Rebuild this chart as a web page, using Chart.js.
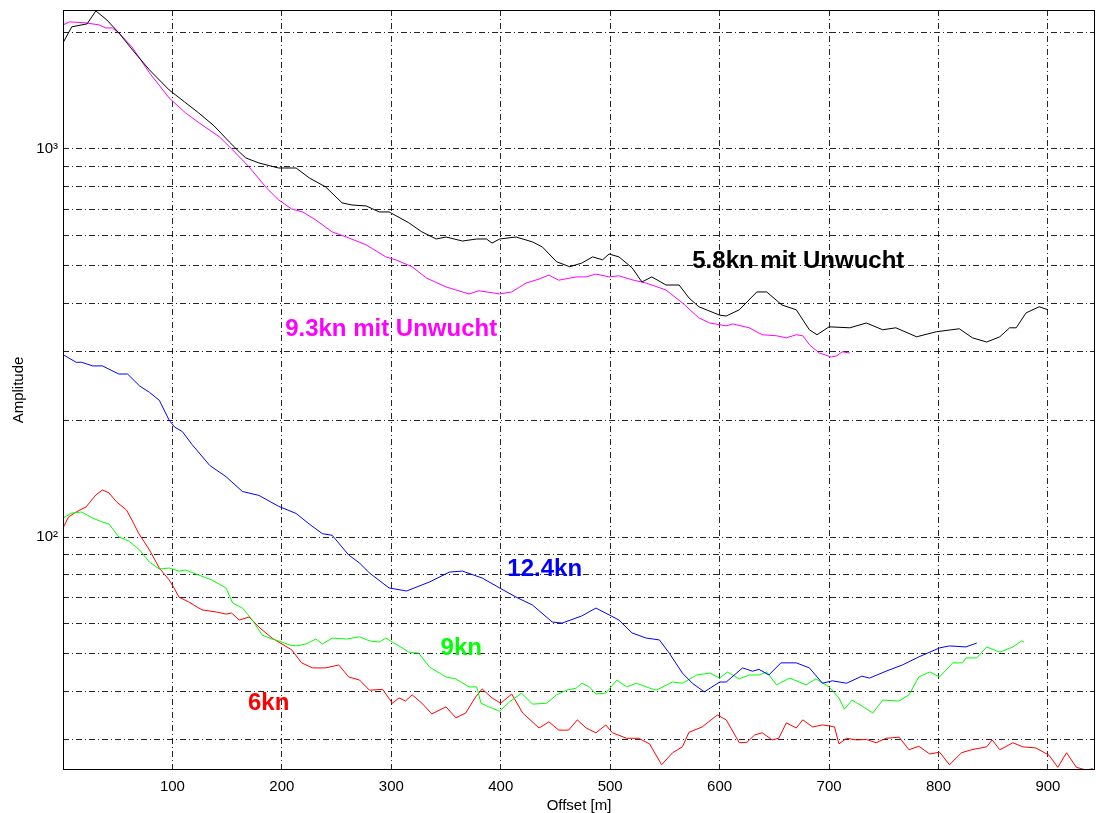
<!DOCTYPE html>
<html>
<head>
<meta charset="utf-8">
<title>Amplitude / Offset</title>
<script src="https://cdn.jsdelivr.net/npm/chart.js@4.4.0/dist/chart.umd.min.js"></script>
<style>
  html, body { margin: 0; padding: 0; background: #fff; }
  #wrap { width: 1096px; height: 813px; position: relative; }
</style>
</head>
<body>
<div id="wrap"><canvas id="chart"></canvas></div>
<script>
// Kurven (Offset in m, Amplitude)
const offsets58 = [0,8,22,30,40,51,65,79,97,111,124,138,152,161,167,179,197,213,225,240,255,264,277,289,298,316,328,341,350,365,378,387,392,399,414,429,438,451,463,474,484,493,499,508,520,529,538,551,563,572,581,600,606,618,634,643,657,670,682,689,700,719,734,749,761,780,798,819,831,844,856,865,871,880,892,900];
const amp58 = [1876,2063,2100,2268,2150,1991,1778,1598,1419,1322,1238,1147,1042,983,948,920,893,893,842,798,726,717,713,688,688,645,611,586,593,579,586,586,572,586,593,576,559,512,497,508,527,518,536,527,494,454,468,446,446,413,392,373,371,385,428,428,396,385,342,332,348,346,356,342,346,328,338,344,326,318,328,346,346,378,392,385];

const offsets93 = [0,6,21,33,39,45,51,63,79,97,112,127,143,155,170,186,197,209,219,231,246,261,277,295,304,319,332,350,359,371,380,392,399,410,423,435,444,453,469,478,487,499,508,520,533,551,566,581,591,606,612,627,639,652,661,670,676,682,691,702,707,712,719];
const amp93 = [2087,2125,2112,2087,2050,2050,1991,1832,1570,1353,1238,1153,1074,994,899,793,739,700,688,656,611,590,566,527,518,497,465,441,433,423,431,426,423,428,451,462,473,459,468,468,476,468,471,460,451,433,401,367,356,350,354,346,332,330,326,332,330,313,298,291,293,300,298];

const offsets124 = [1,12,17,27,36,51,59,70,79,88,97,102,109,118,134,149,164,179,197,213,225,237,246,261,271,280,298,314,335,353,365,383,399,414,429,447,456,474,487,499,508,520,533,545,554,566,575,586,600,606,621,630,636,645,656,670,682,694,703,716,730,737,752,767,782,801,810,825,835];
const amp124 = [294,282,282,276,276,263,263,245,236,225,200,192,187,173,153,143,131,128,120,115,108,102,101,89.9,85.7,80.8,73.9,72.6,76.6,81.2,81.7,78.4,73.9,70.0,66.8,60.4,60.0,62.6,65.6,63.0,61.1,56.6,54.9,54.3,50.2,44.6,42.0,39.9,42.3,42.3,46.0,45.1,45.6,44.1,47.4,47.4,46.0,42.0,42.6,42.0,43.8,43.3,45.1,46.8,49.1,51.8,52.4,52.1,53.3];

const offsets9 = [0,8,17,27,36,42,51,60,70,79,88,97,106,112,124,136,149,155,164,173,182,191,197,207,213,222,231,237,246,259,271,280,289,295,301,307,316,325,335,350,359,371,378,382,389,399,408,419,429,442,451,460,469,474,481,487,496,506,515,524,536,542,548,557,566,579,591,600,607,618,627,636,643,652,664,679,688,700,709,714,721,730,740,749,764,773,782,792,801,813,822,825,835,844,856,868,876,878];
const amp9 = [111.9,115.3,116.0,111.9,109.3,108.0,100,97.7,92.6,86.2,82.7,83.2,81.7,82.2,79.8,77.5,73.9,67.6,65.6,61.1,55.9,54.6,54.0,52.7,52.4,53.0,54.6,53.0,54.9,54.6,55.3,54.0,53.6,54.9,53.6,52.4,50.5,50.2,46.2,43.6,43.1,41.1,41.1,37.3,36.5,35.6,37.6,39.6,37.1,37.3,39.2,40.3,40.8,42.0,41.1,39.4,39.6,42.8,41.1,42.0,40.8,40.3,41.1,42.3,42.0,44.1,44.6,43.3,44.9,43.1,44.1,44.1,44.9,41.6,43.3,41.6,43.1,41.1,38.5,36.0,38.0,36.7,35.2,38.0,37.8,39.2,43.6,44.9,43.6,47.4,47.4,48.8,48.8,52.1,50.5,52.1,54.0,53.6];

const offsets6 = [0,5,12,21,30,36,42,49,58,63,69,79,88,97,101,106,115,127,140,149,154,161,170,179,191,209,218,228,240,252,261,271,280,292,301,307,313,319,328,337,350,359,368,377,383,392,400,410,420,435,444,453,462,470,478,487,496,502,515,526,536,547,557,566,572,584,598,606,618,625,632,639,648,654,661,670,676,685,694,700,705,709,716,725,734,743,752,764,773,782,792,801,810,821,830,844,849,856,868,877,889,901,909,917,926,935,941];
const amp6 = [105.5,112.6,116.0,119.5,128.3,132.2,129.9,123.1,117.4,110.6,102.4,92.6,83.2,77.5,74.3,70.0,68.0,64.9,64.1,63.3,63.7,61.1,62.2,58.6,54.9,51.2,47.4,46.0,46.0,46.8,43.6,42.8,40.3,40.5,37.3,38.5,37.8,39.2,37.3,35.0,36.5,34.2,35.2,38.7,40.6,38.5,37.3,39.4,35.2,32.2,33.4,31.8,31.8,33.8,32.2,31.3,32.8,31.3,30.3,30.3,29.3,25.9,27.8,28.8,31.4,32.4,34.8,33.8,29.5,29.6,30.9,31.3,30.0,30.3,33.2,32.2,33.8,32.4,32.8,32.6,32.4,29.3,30.3,30.0,30.1,29.5,30.3,30.5,28.3,28.9,27.6,27.9,25.9,27.8,28.3,28.8,30.0,28.3,29.5,28.8,28.6,27.4,25.5,27.8,25.5,25.1,25.3];

// Achsen
const xTicks = [100, 200, 300, 400, 500, 600, 700, 800, 900];
const yTicks = [30, 40, 50, 60, 70, 80, 90, 100, 200, 300, 400, 500, 600, 700, 800, 900, 1000, 2000];
const yTickLabels = { 100: '10²', 1000: '10³' };

// Beschriftung der Kurven (x in m, y in Amplitude)
const curveLabels = [
    { text: '5.8kn mit Unwucht', color: '#000000', x: 575, y: 514 },
    { text: '9.3kn mit Unwucht', color: '#ff00ff', x: 203, y: 343 },
    { text: '12.4kn', color: '#0000ff', x: 406, y: 82.6 },
    { text: '9kn', color: '#00ff00', x: 345, y: 51.7 },
    { text: '6kn', color: '#ff0000', x: 169, y: 37.3 }
];

function toPoints(xs, ys) {
    return xs.map((x, i) => ({ x: x, y: ys[i] }));
}

function makeDataset(xs, ys, color) {
    return {
        data: toPoints(xs, ys),
        borderColor: color,
        borderWidth: 1,
        pointRadius: 0,
        tension: 0,
        fill: false
    };
}

// Rahmen und Kurvenbeschriftung
const overlayPlugin = {
    id: 'overlay',
    afterDatasetsDraw(chart) {
        const { ctx, chartArea: a, scales } = chart;
        ctx.save();
        ctx.strokeStyle = '#000';
        ctx.lineWidth = 1;
        ctx.strokeRect(a.left + 0.5, a.top + 0.5, a.right - a.left - 1, a.bottom - a.top - 1);
        ctx.font = 'bold 24px "Liberation Sans", Arial, sans-serif';
        ctx.textBaseline = 'middle';
        ctx.textAlign = 'left';
        curveLabels.forEach(l => {
            ctx.fillStyle = l.color;
            ctx.fillText(l.text, scales.x.getPixelForValue(l.x), scales.y.getPixelForValue(l.y));
        });
        ctx.restore();
    }
};

Chart.defaults.font.family = '"Liberation Sans", Arial, sans-serif';
Chart.defaults.font.size = 15;
Chart.defaults.color = '#000';

const ctx = document.getElementById('chart').getContext('2d');
const chart = new Chart(ctx, {
    type: 'line',
    data: {
        datasets: [
            makeDataset(offsets58, amp58, '#000000'),
            makeDataset(offsets93, amp93, '#ff00ff'),
            makeDataset(offsets124, amp124, '#0000ff'),
            makeDataset(offsets9, amp9, '#00ff00'),
            makeDataset(offsets6, amp6, '#ff0000')
        ]
    },
    options: {
        responsive: true,
        maintainAspectRatio: false,
        animation: false,
        layout: { padding: { top: 10, right: 1, left: 0, bottom: 0 } },
        plugins: {
            legend: { display: false },
            tooltip: { enabled: false }
        },
        scales: {
            x: {
                type: 'linear',
                min: 0,
                max: 943,
                afterBuildTicks: scale => { scale.ticks = xTicks.map(v => ({ value: v })); },
                afterFit: scale => {
                    scale.height = 43;
                    scale.paddingLeft = 0;
                    scale.paddingRight = 0;
                },
                ticks: { padding: 8, maxRotation: 0, autoSkip: false },
                grid: { color: 'rgba(0,0,0,0.85)', lineWidth: 1, drawTicks: false },
                border: { display: false, dash: [6, 3, 1, 3] },
                title: { display: true, text: 'Offset [m]', padding: { top: 0, bottom: -2 } }
            },
            y: {
                type: 'logarithmic',
                min: 25.1,
                max: 2280,
                afterBuildTicks: scale => { scale.ticks = yTicks.map(v => ({ value: v })); },
                afterFit: scale => {
                    scale.width = 63;
                    scale.paddingTop = 0;
                    scale.paddingBottom = 0;
                },
                ticks: {
                    padding: 5,
                    autoSkip: false,
                    callback: value => yTickLabels[value] || ''
                },
                grid: { color: 'rgba(0,0,0,0.85)', lineWidth: 1, drawTicks: false },
                border: { display: false, dash: [6, 3, 1, 3] },
                title: { display: true, text: 'Amplitude', padding: { top: 10, bottom: 0 } }
            }
        }
    },
    plugins: [overlayPlugin]
});
</script>
</body>
</html>
